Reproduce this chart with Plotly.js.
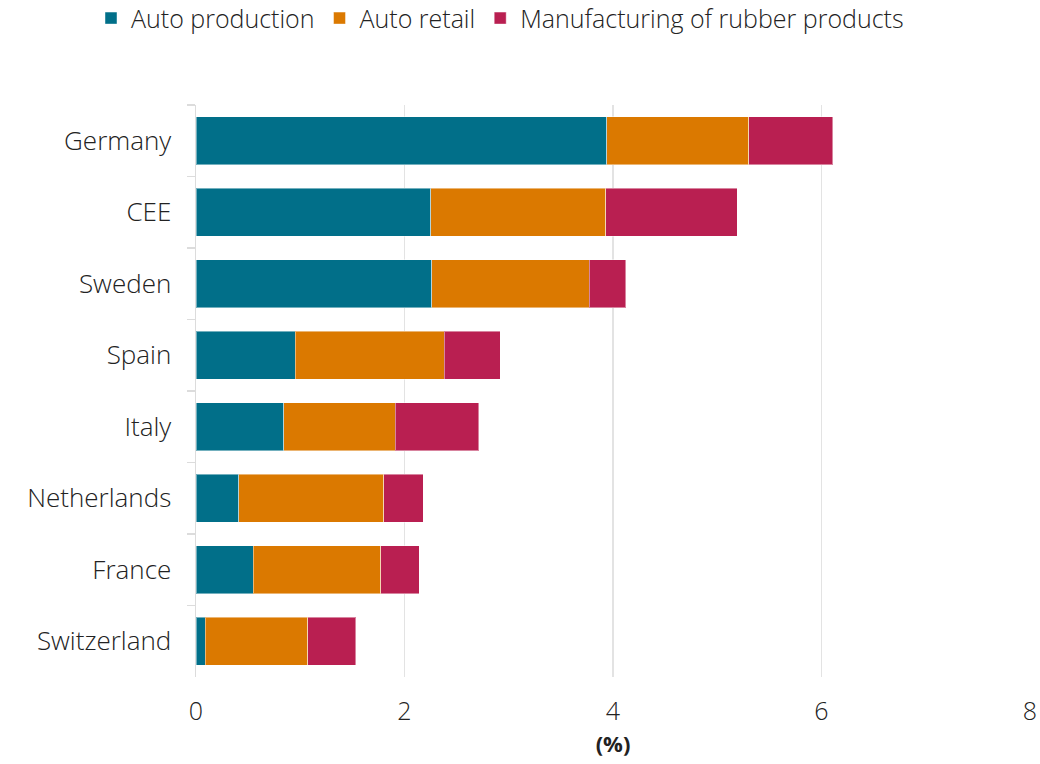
<!DOCTYPE html>
<html>
<head>
<meta charset="utf-8">
<script src="https://cdn.plot.ly/plotly-3.0.1.min.js"></script>
<style>body{margin:0;background:#fff}#chart{width:1040px;height:764px}</style>
</head>
<body>
<div id="chart"></div>
<script>
var countries = ["Germany", "CEE", "Sweden", "Spain", "Italy", "Netherlands", "France", "Switzerland"];
var autoProduction = [3.94, 2.25, 2.26, 0.95, 0.84, 0.41, 0.55, 0.09];
var autoRetail = [1.36, 1.68, 1.51, 1.43, 1.07, 1.39, 1.22, 0.98];
var rubberProducts = [0.81, 1.26, 0.35, 0.54, 0.80, 0.38, 0.37, 0.46];
var seriesNames = ["Auto production", "Auto retail", "Manufacturing of rubber products"];
var colors = ["#016F89", "#DB7900", "#B91F51"];
var xTicks = [0, 2, 4, 6, 8];

var fam = "'Open Sans', Roboto, sans-serif";
var txt = {family: fam, size: 26, color: "#222", weight: 300};
var legTxt = {family: fam, size: 25, color: "#222", weight: 300};
var vals = [autoProduction, autoRetail, rubberProducts];
var traces = vals.map(function (v, i) {
  return {
    type: "bar", orientation: "h", name: seriesNames[i],
    x: v, y: countries,
    marker: {color: colors[i], line: {color: "rgba(255,255,255,0.45)", width: 1}},
    hoverinfo: "x+y+name"
  };
});

var layout = {
  width: 1040, height: 764,
  barmode: "stack", bargap: 0.33,
  font: txt,
  paper_bgcolor: "#fff", plot_bgcolor: "#fff",
  margin: {l: 196, r: 10, t: 105, b: 87},
  showlegend: true,
  legend: {orientation: "h", xref: "container", yref: "container",
           x: 0.0875, xanchor: "left", y: 0.976, yanchor: "middle",
           font: legTxt, itemwidth: 20, tracegroupgap: 0, traceorder: "normal"},
  xaxis: {
    range: [0, 8], tickvals: xTicks, ticktext: xTicks.map(String),
    showgrid: true, gridcolor: "#e3e3e3", gridwidth: 1.5,
    zeroline: false, showline: false, ticks: "",
    ticklabelstandoff: 17,
    tickfont: {family: fam, size: 25, color: "#222", weight: 300},
    title: {text: "<b>(%)</b>", font: {family: fam, size: 22, color: "#222"}, standoff: 10}
  },
  yaxis: {
    autorange: "reversed", categoryorder: "array", categoryarray: countries,
    showline: true, linecolor: "#dcdcdc", linewidth: 1.5,
    ticks: "outside", tickson: "boundaries", ticklen: 8, tickcolor: "#dcdcdc", tickwidth: 1.5,
    ticklabelstandoff: 18,
    tickfont: txt,
    showgrid: false
  }
};

Plotly.newPlot("chart", traces, layout, {displayModeBar: false, staticPlot: true});
</script>
</body>
</html>
